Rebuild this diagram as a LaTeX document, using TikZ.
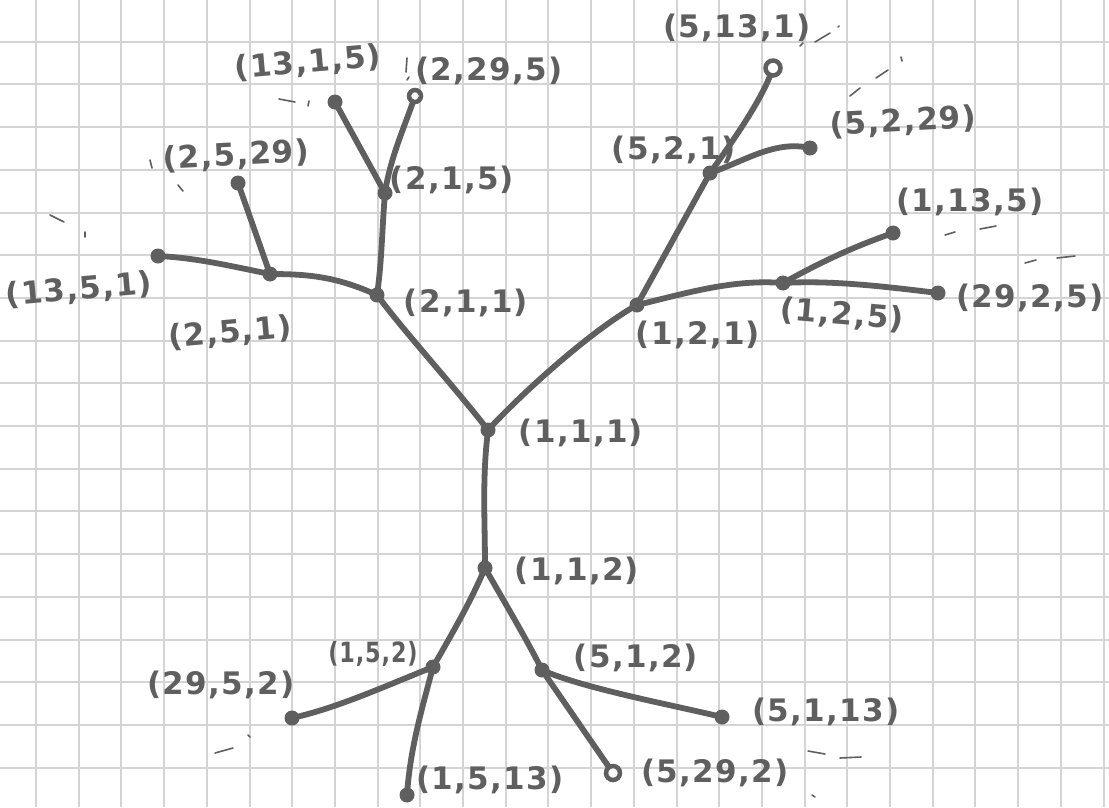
\documentclass[tikz,border=0pt]{standalone}
\usepackage{fontspec}
\newfontfamily\hand[LetterSpace=4]{DejaVu Sans}
\definecolor{ink}{RGB}{95,95,95}
\definecolor{gridc}{RGB}{212,212,212}
\begin{document}
\begin{tikzpicture}[x=1pt,y=1pt,
  edge/.style={draw=ink, line width=5.8pt, line cap=round},
  dot/.style={circle, fill=ink, inner sep=0pt, minimum size=15pt},
  ring/.style={circle, draw=ink, fill=white, line width=4.5pt, inner sep=0pt, minimum size=12pt},
  lab/.style={text=ink, font=\hand\bfseries\fontsize{31}{33}\selectfont, inner sep=0pt},
  scrib/.style={draw=ink, line width=1.6pt, line cap=round}]
\useasboundingbox (0,0) rectangle (1109,-807);
\fill[white] (0,0) rectangle (1109,-807);
\foreach \i in {0,...,25} \draw[gridc, line width=2pt] ({36+42.7*\i},0) -- ({36+42.7*\i},-807);
\foreach \j in {0,...,17} \draw[gridc, line width=2pt] (0,{-41.7-42.7*\j}) -- (1109,{-41.7-42.7*\j});

\coordinate (a111) at (488,-430);
\coordinate (a112) at (485,-568);
\coordinate (a211) at (377,-295);
\coordinate (a121) at (637,-305);
\coordinate (a251) at (270,-274);
\coordinate (a1351) at (158,-256);
\coordinate (a2529) at (238,-183);
\coordinate (a215) at (385,-193);
\coordinate (a1315) at (335,-102);
\coordinate (a2295) at (415,-96);
\coordinate (a521) at (710,-173);
\coordinate (a5131) at (773,-68);
\coordinate (a5229) at (810,-148);
\coordinate (a125) at (783,-283);
\coordinate (a1135) at (893,-233);
\coordinate (a2925) at (938,-293);
\coordinate (a152) at (433,-667);
\coordinate (a2952) at (292,-718);
\coordinate (a1513) at (407,-795);
\coordinate (a512) at (542,-670);
\coordinate (a5113) at (722,-717);
\coordinate (a5292) at (613,-773);

\draw[edge] (a111) .. controls +(-35,45) and +(30,-40) .. (a211);
\draw[edge] (a111) .. controls +(35,38) and +(-45,-25) .. (a121);
\draw[edge] (a111) .. controls +(-6,-50) and +(0,50) .. (a112);
\draw[edge] (a211) .. controls +(-40,18) and +(40,0) .. (a251);
\draw[edge] (a251) .. controls +(-40,8) and +(40,-2) .. (a1351);
\draw[edge] (a251) -- (a2529);
\draw[edge] (a211) .. controls +(5,35) and +(-3,-35) .. (a215);
\draw[edge] (a215) -- (a1315);
\draw[edge] (a215) .. controls +(5,35) and +(-10,-30) .. (a2295);
\draw[edge] (a121) -- (a521);
\draw[edge] (a521) .. controls +(25,35) and +(-10,-30) .. (a5131);
\draw[edge] (a521) .. controls +(35,12) and +(-35,8) .. (a5229);
\draw[edge] (a121) .. controls +(50,12) and +(-50,4) .. (a125);
\draw[edge] (a125) .. controls +(40,22) and +(-40,-14) .. (a1135);
\draw[edge] (a125) .. controls +(50,3) and +(-50,6) .. (a2925);
\draw[edge] (a112) .. controls +(-15,-35) and +(20,35) .. (a152);
\draw[edge] (a152) .. controls +(-50,-20) and +(45,10) .. (a2952);
\draw[edge] (a152) .. controls +(-12,-45) and +(3,45) .. (a1513);
\draw[edge] (a112) .. controls +(20,-35) and +(-15,30) .. (a512);
\draw[edge] (a512) .. controls +(40,-18) and +(-50,12) .. (a5113);
\draw[edge] (a512) -- (a5292);

\foreach \c in {a111,a112,a211,a121,a251,a1351,a2529,a215,a1315,a521,a5229,a125,a1135,a2925,a152,a2952,a1513,a512,a5113}
  \node[dot] at (\c) {};
\node[ring] at (a2295) {};
\node[ring, minimum size=15pt] at (a5131) {};
\node[ring, minimum size=14pt] at (a5292) {};

\node[lab] (l111) at (581,-433) {(1,1,1)};
\node[lab] (l112) at (577,-571) {(1,1,2)};
\node[lab] (l211) at (466,-303) {(2,1,1)};
\node[lab] (l121) at (698,-335) {(1,2,1)};
\node[lab, rotate=5] (l251) at (230,-333) {(2,5,1)};
\node[lab, rotate=5] (l1351) at (79,-290) {(13,5,1)};
\node[lab, rotate=3] (l2529) at (236,-156) {(2,5,29)};
\node[lab] (l215) at (452,-180) {(2,1,5)};
\node[lab, rotate=5] (l1315) at (308,-63) {(13,1,5)};
\node[lab] (l2295) at (489,-71) {(2,29,5)};
\node[lab] (l5131) at (737,-28) {(5,13,1)};
\node[lab, rotate=3] (l5229) at (903,-122) {(5,2,29)};
\node[lab] (l521) at (674,-150) {(5,2,1)};
\node[lab] (l1135) at (970,-202) {(1,13,5)};
\node[lab, rotate=-5] (l125) at (842,-315) {(1,2,5)};
\node[lab] (l2925) at (1030,-298) {(29,2,5)};
\node[lab, xscale=0.72, yscale=0.9] (l152) at (373,-654) {(1,5,2)};
\node[lab] (l2952) at (221,-685) {(29,5,2)};
\node[lab] (l1513) at (490,-780) {(1,5,13)};
\node[lab] (l512) at (636,-658) {(5,1,2)};
\node[lab] (l5113) at (826,-712) {(5,1,13)};
\node[lab] (l5292) at (715,-773) {(5,29,2)};

% stray pen marks
\draw[scrib] (279,-99) -- (295,-102);
\draw[scrib] (309,-101) -- (308,-106);
\draw[scrib] (407,-58) -- (406,-72);
\draw[scrib] (409,-77) -- (407,-80);
\draw[scrib] (800,-46) -- (803,-43);
\draw[scrib] (815,-42) -- (830,-33);
\draw[scrib] (838,-27) -- (839,-26);
\draw[scrib] (850,-96) -- (860,-88);
\draw[scrib] (876,-78) -- (888,-70);
\draw[scrib] (901,-57) -- (902,-61);
\draw[scrib] (945,-235) -- (955,-232);
\draw[scrib] (980,-229) -- (996,-226);
\draw[scrib] (1025,-263) -- (1036,-260);
\draw[scrib] (1057,-258) -- (1075,-256);
\draw[scrib] (808,-751) -- (825,-754);
\draw[scrib] (840,-758) -- (861,-757);
\draw[scrib] (812,-795) -- (815,-797);
\draw[scrib] (215,-753) -- (233,-748);
\draw[scrib] (248,-735) -- (250,-737);
\draw[scrib] (150,-160) -- (152,-168);
\draw[scrib] (178,-185) -- (183,-191);
\draw[scrib] (50,-215) -- (64,-222);
\draw[scrib] (85,-232) -- (85,-237);
\end{tikzpicture}
\end{document}
